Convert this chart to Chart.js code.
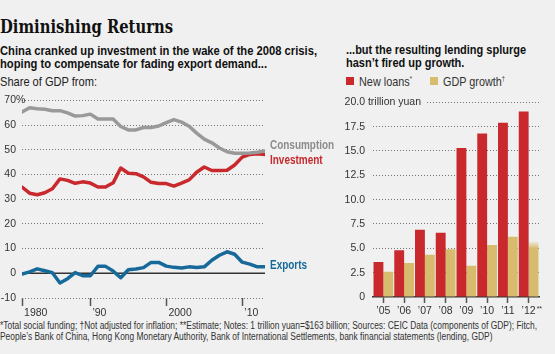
<!DOCTYPE html>
<html><head><meta charset="utf-8">
<script src="https://cdn.jsdelivr.net/npm/chart.js@4.4.0/dist/chart.umd.min.js"></script>
<style>
html,body{margin:0;padding:0;background:#f0f0f0;}
#wrap{position:relative;width:555px;height:354px;overflow:hidden;background:#f0f0f0;font-family:"Liberation Sans",Arial,sans-serif;color:#222;}
.t{position:absolute;white-space:nowrap;transform-origin:0 0;}
#title{left:0;top:16px;font-family:"DejaVu Serif",serif;font-weight:bold;font-size:19px;line-height:20px;color:#111;}
.sub{font-weight:bold;font-size:12px;line-height:13px;color:#111;}
#subL{left:0;top:45px;}
#subR{left:346px;top:44px;}
#share{left:0;top:75px;font-size:13px;line-height:13px;color:#222;}
.sw{position:absolute;width:8px;height:8px;}
.leg{font-size:13px;line-height:13px;color:#333;}
.leg sup{font-size:7px;vertical-align:5px;line-height:0;}
#foot{left:0;top:320px;font-size:10px;line-height:11px;color:#333;}
canvas{position:absolute;}
#cL{left:0;top:88px;}
#cR{left:330px;top:88px;}
</style></head>
<body><div id="wrap">
<div class="t" id="title"><span class="l1">Diminishing Returns</span></div>
<div class="t sub" id="subL"><span class="l1">China cranked up investment in the wake of the 2008 crisis,</span><br>hoping to compensate for fading export demand...</div>
<div class="t" id="share"><span class="l1">Share of GDP from:</span></div>
<div class="t sub" id="subR"><span class="l1">...but the resulting lending splurge</span><br>hasn’t fired up growth.</div>
<div class="sw" style="left:346px;top:77px;background:#c9282d"></div>
<div class="t leg" id="leg1" style="left:359px;top:75px;"><span class="l1">New loans<sup>*</sup></span></div>
<div class="sw" style="left:430px;top:77px;background:#d6bc6c"></div>
<div class="t leg" id="leg2" style="left:443px;top:75px;"><span class="l1">GDP growth<sup>†</sup></span></div>
<canvas id="cL" width="345" height="232"></canvas>
<canvas id="cR" width="225" height="232"></canvas>
<div class="t" id="foot"><span class="l1">*Total social funding; †Not adjusted for inflation; **Estimate; Notes: 1 trillion yuan=$163 billion; Sources: CEIC Data (components of GDP); Fitch,</span><br>People’s Bank of China, Hong Kong Monetary Authority, Bank of International Settlements, bank financial statements (lending, GDP)</div>
</div>
<script>
// ---- Data: left chart (share of GDP, %) ----
const years = [1980,1981,1982,1983,1984,1985,1986,1987,1988,1989,1990,1991,1992,1993,1994,1995,1996,1997,1998,1999,2000,2001,2002,2003,2004,2005,2006,2007,2008,2009,2010,2011,2012];
const consumption = [65.3,67.0,66.6,66.4,65.8,65.8,64.9,63.6,63.8,64.4,62.4,62.4,62.4,59.4,58.0,58.0,59.0,59.0,59.6,61.0,62.2,61.2,59.5,56.7,54.3,52.8,50.7,49.2,48.6,48.6,48.7,49.0,49.5];
const investment  = [34.9,32.4,31.8,32.6,34.2,38.2,37.6,36.4,37.0,36.5,34.9,34.9,36.6,42.6,40.5,40.3,39.0,36.8,36.3,36.3,35.3,36.5,37.8,40.9,43.0,41.6,41.6,41.7,43.8,47.0,48.1,48.4,48.1];
const exportsNet  = [-0.3,0.6,1.8,1.0,0.2,-3.9,-2.2,0.3,-1.0,-1.0,2.8,2.8,0.9,-1.8,1.4,1.7,2.3,4.4,4.4,2.9,2.4,2.1,2.6,2.3,2.6,5.3,7.3,8.7,7.7,4.5,3.7,2.6,2.6];
const leftTickValues = [1980,1989,1999,2009];
const leftTickLabels = ['1980','’90','2000','’10'];
const seriesNames = ['Consumption','Investment','Exports'];

// ---- Data: right chart (trillion yuan) ----
const barYears = ['’05','’06','’07','’08','’09','’10','’11','’12'];
const newLoans  = [3.6,4.8,6.9,6.6,15.3,16.8,17.9,19.05];
const gdpGrowth = [2.6,3.5,4.35,4.9,3.2,5.35,6.2,5.7];

// fit condensed text blocks to the reference widths
function fit(id, target){
  const el=document.getElementById(id); const l=el.querySelector('.l1');
  const w=l.getBoundingClientRect().width; el.style.transform='scaleX('+(target/w)+')';
}
fit('title',173); fit('subL',317); fit('subR',180); fit('share',97);
fit('leg1',53); fit('leg2',62); fit('foot',537);

const FONT = '"Liberation Sans",Arial,sans-serif';
Chart.defaults.font.family = FONT;
Chart.defaults.color = '#333';
const GREY='#999999', RED='#c9282d', BLUE='#17699a', GOLD='#d6bc6c', BG='#f0f0f0';
const LABELCOL = ['#8c8c8c', RED, BLUE];

const leftPlugin = {
  id:'leftDeco',
  beforeDatasetsDraw(chart){
    const {ctx, chartArea:a, scales:{y}} = chart;
    const y0 = y.getPixelForValue(0);
    ctx.save(); ctx.strokeStyle='#333'; ctx.lineWidth=1.5;
    ctx.beginPath(); ctx.moveTo(a.left,y0); ctx.lineTo(a.right,y0); ctx.stroke(); ctx.restore();
  },
  afterDraw(chart){
    const {ctx, chartArea:a, scales:{y}} = chart;
    ctx.save();
    ctx.font = '10.5px '+FONT; ctx.fillStyle='#333'; ctx.textAlign='left'; ctx.textBaseline='middle';
    ctx.fillText('%', a.left-6, y.getPixelForValue(70));
    ctx.font = 'bold 12px '+FONT;
    const offs = [2.2,-2.4,0.4];
    chart.data.datasets.forEach((ds,i)=>{
      const v = ds.data[ds.data.length-1].y;
      ctx.save();
      ctx.translate(a.right+5, y.getPixelForValue(v+offs[i]));
      ctx.scale(0.83,1);
      ctx.fillStyle = LABELCOL[i];
      ctx.fillText(seriesNames[i], 0, 0);
      ctx.restore();
    });
    ctx.restore();
  }
};

const mk = (arr) => arr.map((v,i)=>({x:years[i], y:v}));
new Chart(document.getElementById('cL'), {
  type:'line',
  data:{datasets:[
    {label:seriesNames[0], data:mk(consumption), borderColor:GREY, borderWidth:3.5},
    {label:seriesNames[1], data:mk(investment), borderColor:RED, borderWidth:3.5},
    {label:seriesNames[2], data:mk(exportsNet), borderColor:BLUE, borderWidth:3.5}
  ]},
  options:{
    responsive:false, animation:false, devicePixelRatio:1,
    layout:{padding:{left:0,right:80,top:10,bottom:0}},
    elements:{point:{radius:0}, line:{tension:0, borderJoinStyle:'round', borderCapStyle:'round'}},
    plugins:{legend:{display:false}, tooltip:{enabled:false}},
    scales:{
      x:{type:'linear', min:1980, max:2012,
        afterBuildTicks(s){ s.ticks = leftTickValues.map(v=>({value:v})); },
        afterFit(s){ s.height = 22; },
        ticks:{autoSkip:false, maxRotation:0, align:'start', padding:1, font:{size:10.5}, color:'#333',
          callback:(v)=>{ const i=leftTickValues.indexOf(v); return i<0?'':'\u2009'+leftTickLabels[i]; }},
        grid:{drawOnChartArea:false, drawTicks:true, tickLength:8, tickColor:'#555', tickWidth:1.5},
        border:{display:false}
      },
      y:{min:-10, max:70,
        afterFit(s){ s.width = 22; },
        ticks:{stepSize:10, padding:6, font:{size:10.5}, color:'#333', callback:(v)=>String(v)},
        grid:{drawTicks:false, lineWidth:1, color:(c)=> c.tick && c.tick.value===0 ? 'rgba(0,0,0,0)' : '#777'},
        border:{display:false, dash:[1,2]}
      }
    }
  },
  plugins:[leftPlugin]
});

const rightPlugin = {
  id:'rightDeco',
  afterDraw(chart){
    const {ctx, chartArea:a, scales:{x,y}} = chart;
    ctx.save();
    ctx.font = '10.5px '+FONT; ctx.textBaseline='middle'; ctx.textAlign='left';
    const yy = y.getPixelForValue(20);
    const xr = a.left - 8;
    const suffix = ' trillion yuan';
    const w = ctx.measureText(suffix).width;
    ctx.fillStyle = BG; ctx.fillRect(xr, yy-6, w+4, 12);
    ctx.fillStyle = '#333'; ctx.fillText(suffix, xr, yy);
    const xl = x.getPixelForValue(barYears.length-1);
    ctx.font = '7px '+FONT; ctx.fillText('**', xl+8, a.bottom+12);
    ctx.restore();
  }
};

new Chart(document.getElementById('cR'), {
  type:'bar',
  data:{labels:barYears, datasets:[
    {label:'New loans', data:newLoans, backgroundColor:RED},
    {label:'GDP growth', data:gdpGrowth, backgroundColor:(c)=>{
      const ch=c.chart; if(!ch.chartArea || !ch.scales.y || c.dataIndex!==gdpGrowth.length-1) return GOLD;
      const y=ch.scales.y; const g=ch.ctx.createLinearGradient(0,y.getPixelForValue(gdpGrowth[gdpGrowth.length-1]),0,y.getPixelForValue(5.0));
      g.addColorStop(0,'rgba(214,188,108,0.1)'); g.addColorStop(1,GOLD); return g; }}
  ]},
  options:{
    responsive:false, animation:false, devicePixelRatio:1,
    layout:{padding:{left:0,right:16,top:12,bottom:0}},
    datasets:{bar:{categoryPercentage:0.95, barPercentage:1, borderWidth:0}},
    plugins:{legend:{display:false}, tooltip:{enabled:false}},
    scales:{
      x:{afterFit(s){ s.height = 23; },
        ticks:{font:{size:10.5}, color:'#333', padding:2, maxRotation:0},
        grid:{offset:false, drawOnChartArea:false, drawTicks:true, tickLength:6, tickColor:'#555', tickWidth:1.5},
        border:{display:true, color:'#333', width:1.5}
      },
      y:{min:0, max:20,
        afterFit(s){ s.width = 43; },
        ticks:{stepSize:2.5, padding:8, font:{size:10.5}, color:'#333', callback:(v)=> v===0?'0':v.toFixed(1)},
        grid:{drawTicks:false, lineWidth:1, color:(c)=> c.tick && c.tick.value===0 ? 'rgba(0,0,0,0)' : '#777'},
        border:{display:false, dash:[1,2]}
      }
    }
  },
  plugins:[rightPlugin]
});
</script>
</body></html>
